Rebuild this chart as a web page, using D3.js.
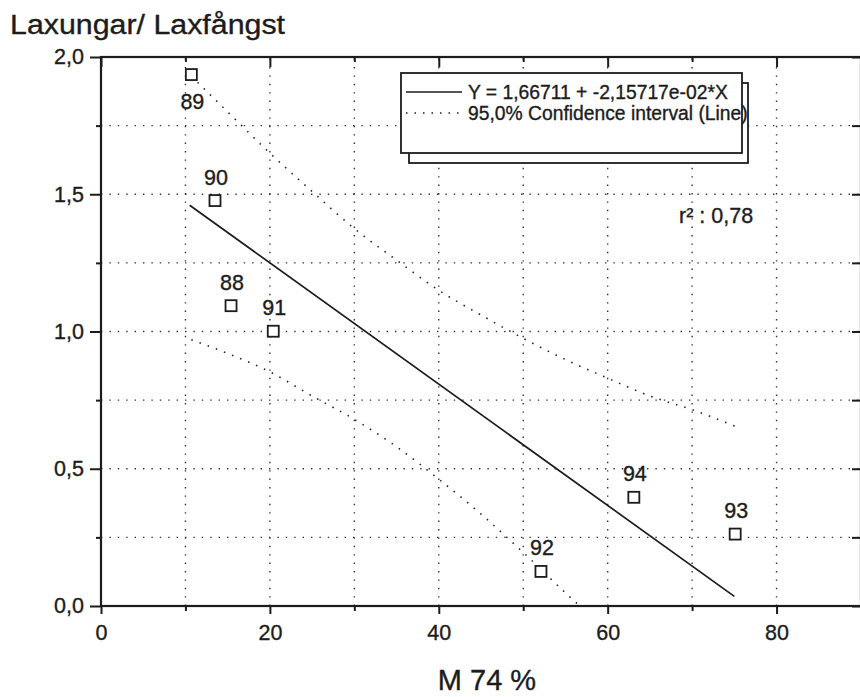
<!DOCTYPE html>
<html>
<head>
<meta charset="utf-8">
<script src="https://cdn.jsdelivr.net/npm/d3@7"></script>
<style>
  html, body { margin: 0; padding: 0; background: #fff; }
  svg { display: block; font-family: "Liberation Sans", Arial, Helvetica, sans-serif; }
  text { fill: #1c1c1c; stroke: #1c1c1c; stroke-width: 0.35px; }
</style>
</head>
<body>
<svg id="chart" width="860" height="697"></svg>
<script>
// --- data ---
const years = ["88", "89", "90", "91", "92", "93", "94"];
const m74 = [15.4, 10.7, 13.5, 20.4, 52.1, 75.1, 63.1];          // M 74 %
const ratio = [1.094, 1.936, 1.477, 1.001, 0.126, 0.262, 0.396];  // Laxungar/ Laxfångst

// fitted line (as drawn)
const fitX = [10.5, 75.0];
const fitY = [1.46, 0.035];

// 95% confidence band, upper and lower
const upperX = [10.7, 15, 20, 25, 30, 35, 40, 45, 50, 55, 60, 65, 70, 75.1];
const upperY = [1.93, 1.80, 1.65, 1.51, 1.375, 1.26, 1.15, 1.06, 0.975, 0.898, 0.83, 0.765, 0.715, 0.655];
const lowerX = [10.7, 15, 20, 25, 30, 35, 40, 45, 50, 55, 56.7];
const lowerY = [0.97, 0.92, 0.853, 0.765, 0.68, 0.58, 0.462, 0.335, 0.195, 0.048, 0.0];

const xMajor = [0, 20, 40, 60, 80];
const xMinor = [10, 30, 50, 70, 90];
const yMajor = [0, 0.5, 1.0, 1.5, 2.0];
const yMinor = [0.25, 0.75, 1.25, 1.75];

const titleText = "Laxungar/ Laxfångst";
const xTitle = "M 74 %";
const legendLines = ["Y = 1,66711 + -2,15717e-02*X", "95,0% Confidence interval (Line)"];
const r2Text = "r² : 0,78";
const labelsBelow = ["89"];

// --- layout ---
const svg = d3.select("#chart");
const x = d3.scaleLinear().domain([0, 90]).range([101, 861]);
const y = d3.scaleLinear().domain([0, 2]).range([606, 57]);

const comma = d3.formatLocale({ decimal: ",", thousands: " ", grouping: [3], currency: ["", ""] });
const fmtY = comma.format(".1f");

const dots = "1.4,7";
const ink = "#1c1c1c";

// grid
const grid = svg.append("g").attr("stroke", "#333").attr("stroke-width", 1.4)
    .attr("stroke-dasharray", dots);
grid.selectAll(".gx").data(d3.range(10, 90, 10)).enter().append("line")
    .attr("x1", d => x(d)).attr("x2", d => x(d))
    .attr("y1", y(0)).attr("y2", y(2));
grid.selectAll(".gy").data(d3.range(0.25, 2, 0.25)).enter().append("line")
    .attr("x1", x(0)).attr("x2", x(90))
    .attr("y1", d => y(d)).attr("y2", d => y(d));

// axes
function styleAxis(g) {
    g.select(".domain").remove();
    g.selectAll(".tick line").attr("stroke", ink).attr("stroke-width", 2);
    g.selectAll(".tick text").attr("fill", ink).style("font-size", "21.5px");
}
svg.append("g").attr("transform", `translate(0,${y(0)})`)
    .call(d3.axisBottom(x).tickValues(xMajor).tickSize(8).tickPadding(11).tickFormat(d3.format("d")))
    .call(styleAxis);
svg.append("g").attr("transform", `translate(0,${y(0)})`)
    .call(d3.axisBottom(x).tickValues(xMinor).tickSize(5).tickFormat(""))
    .call(styleAxis);
svg.append("g").attr("transform", `translate(0,${y(2)})`)
    .call(d3.axisTop(x).tickValues(xMajor).tickSize(-10).tickFormat(""))
    .call(styleAxis);
svg.append("g").attr("transform", `translate(0,${y(2)})`)
    .call(d3.axisTop(x).tickValues(xMinor).tickSize(-5).tickFormat(""))
    .call(styleAxis);
svg.append("g").attr("transform", `translate(${x(0)},0)`)
    .call(d3.axisLeft(y).tickValues(yMajor).tickSize(11).tickPadding(6).tickFormat(fmtY))
    .call(styleAxis);
svg.append("g").attr("transform", `translate(${x(0)},0)`)
    .call(d3.axisLeft(y).tickValues(yMinor).tickSize(5).tickFormat(""))
    .call(styleAxis);
svg.append("g").attr("transform", `translate(${x(90)},0)`)
    .call(d3.axisRight(y).tickValues(yMajor.concat(yMinor)).tickSize(-9).tickFormat(""))
    .call(styleAxis);

// frame
svg.append("rect")
    .attr("x", x(0)).attr("y", y(2))
    .attr("width", x(90) - x(0)).attr("height", y(0) - y(2))
    .attr("fill", "none").attr("stroke", ink).attr("stroke-width", 2.2);

// confidence band
const line = d3.line().x(d => x(d[0])).y(d => y(d[1])).curve(d3.curveMonotoneX);
svg.append("path")
    .datum(d3.zip(upperX, upperY))
    .attr("d", line)
    .attr("fill", "none").attr("stroke", "#222").attr("stroke-width", 1.6)
    .attr("stroke-dasharray", "1.5,7.2");
svg.append("path")
    .datum(d3.zip(lowerX, lowerY))
    .attr("d", line)
    .attr("fill", "none").attr("stroke", "#222").attr("stroke-width", 1.6)
    .attr("stroke-dasharray", "1.5,7.2");

// fitted line
svg.append("path")
    .datum(d3.zip(fitX, fitY))
    .attr("d", d3.line().x(d => x(d[0])).y(d => y(d[1])))
    .attr("fill", "none").attr("stroke", ink).attr("stroke-width", 1.7);

// points
const pts = d3.zip(years, m74, ratio);
svg.selectAll(".pt").data(pts).enter().append("rect")
    .attr("x", d => x(d[1]) - 5.5).attr("y", d => y(d[2]) - 5.5)
    .attr("width", 11).attr("height", 11)
    .attr("fill", "#fff").attr("stroke", ink).attr("stroke-width", 1.8);
svg.selectAll(".lbl").data(pts).enter().append("text")
    .attr("x", d => x(d[1]) + 1)
    .attr("y", d => labelsBelow.includes(d[0]) ? y(d[2]) + 34 : y(d[2]) - 16)
    .attr("text-anchor", "middle")
    .style("font-size", "21.5px")
    .text(d => d[0]);

// legend
const lg = svg.append("g");
lg.append("rect").attr("x", 409).attr("y", 83).attr("width", 339).attr("height", 80)
    .attr("fill", "#fff").attr("stroke", ink).attr("stroke-width", 1.8);
lg.append("rect").attr("x", 401).attr("y", 73).attr("width", 341).attr("height", 80)
    .attr("fill", "#fff").attr("stroke", ink).attr("stroke-width", 1.8);
lg.append("line").attr("x1", 406).attr("x2", 462).attr("y1", 92).attr("y2", 92)
    .attr("stroke", ink).attr("stroke-width", 1.5);
lg.append("line").attr("x1", 406).attr("x2", 462).attr("y1", 113).attr("y2", 113)
    .attr("stroke", "#222").attr("stroke-width", 1.5).attr("stroke-dasharray", "1.5,7");
lg.selectAll(".lt").data(legendLines).enter().append("text")
    .attr("x", 468).attr("y", (d, i) => 98.5 + i * 21)
    .style("font-size", "19.3px")
    .text(d => d);

// r²
svg.append("text").attr("x", 679).attr("y", 223)
    .style("font-size", "21.5px").text(r2Text);

// titles
svg.append("text").attr("x", 10).attr("y", 33.5)
    .attr("textLength", 275).attr("lengthAdjust", "spacingAndGlyphs")
    .style("font-size", "27px").text(titleText);
svg.append("text").attr("x", 487).attr("y", 690)
    .attr("text-anchor", "middle")
    .style("font-size", "29px").text(xTitle);
</script>
</body>
</html>
